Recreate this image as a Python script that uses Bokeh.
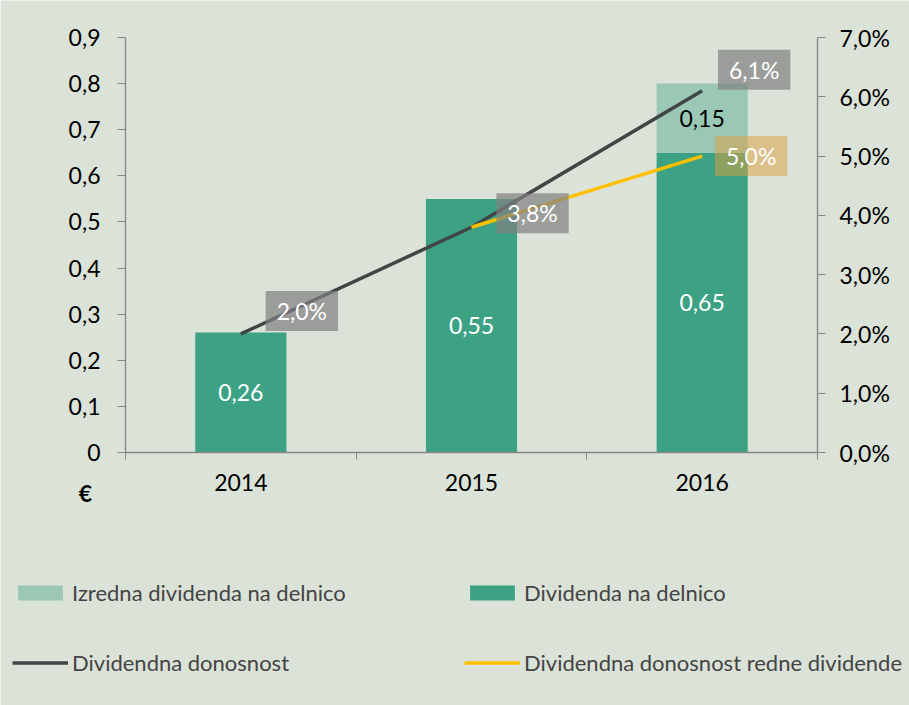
from bokeh.plotting import figure
from bokeh.models import (Range1d, LinearAxis, FixedTicker, Legend, LegendItem,
                          Label, LabelSet, ColumnDataSource)
from bokeh.embed import file_html
from bokeh.resources import INLINE
from bokeh.core.properties import value

# ---- data ----
years = ["2014", "2015", "2016"]
dividend = [0.26, 0.55, 0.65]             # Dividenda na delnico (€)
extra = [0.0, 0.0, 0.15]                  # Izredna dividenda na delnico (€)
yield_total = [2.0, 3.8, 6.1]             # Dividendna donosnost (%)
yield_regular = [float("nan"), 3.8, 5.0]  # Dividendna donosnost redne dividende (%)
left_ticks = [0, 0.1, 0.2, 0.3, 0.4, 0.5, 0.6, 0.7, 0.8, 0.9]
right_ticks = [0, 1, 2, 3, 4, 5, 6, 7]
LEFT_MAX = 0.9
RIGHT_MAX = 7

# ---- style / layout ----
FONT = "Lato"
BG = "#dbe2d8"
AXIS = "#868686"
DARK_GREEN = "#3ca283"
LIGHT_GREEN = "#9ac8b5"
GREY_LINE = "#404545"
YELLOW = "#ffc000"
FS = "23px"
LEG_FS = "22px"

W, H = 909, 705
PL, PR, PT, PB = 125, 817, 37, 452  # plot-area pixel box inside the figure
ncat = len(years)
x0 = -PL / (PR - PL) * ncat
x1 = (W - PL) / (PR - PL) * ncat
y1 = LEFT_MAX + PT / (PB - PT) * LEFT_MAX
y0 = -(H - PB) / (PB - PT) * LEFT_MAX
k = RIGHT_MAX / LEFT_MAX

xc = [i + 0.5 for i in range(ncat)]
bounds = [float(i) for i in range(ncat + 1)]

p = figure(width=W, height=H, output_backend="svg", toolbar_location=None,
           x_range=Range1d(x0, x1), y_range=Range1d(y0, y1),
           x_axis_location=None, y_axis_location=None, min_border=0,
           background_fill_color=BG, border_fill_color=BG, outline_line_color=None)
p.grid.visible = False
p.extra_y_ranges = {"pct": Range1d(y0 * k, y1 * k)}


def style_axis(ax, standoff):
    ax.major_tick_in = 0
    ax.major_tick_line_color = AXIS
    ax.axis_line_color = AXIS
    ax.axis_line_width = 1.3
    ax.major_label_standoff = standoff
    ax.major_label_text_font = FONT
    ax.major_label_text_font_size = FS
    ax.major_label_text_color = "#000000"


# x axis (at y = 0)
xa = LinearAxis(fixed_location=0, bounds=(0, ncat),
                ticker=FixedTicker(ticks=xc, minor_ticks=bounds))
style_axis(xa, 14)
xa.major_label_overrides = {c: y for c, y in zip(xc, years)}
xa.major_tick_out = 0
xa.minor_tick_out = 7
xa.minor_tick_in = 0
xa.minor_tick_line_color = AXIS
p.add_layout(xa, "below")

# left axis
ya = LinearAxis(fixed_location=0, bounds=(0, LEFT_MAX),
                ticker=FixedTicker(ticks=left_ticks, minor_ticks=[]))
style_axis(ya, 17)
ya.major_label_overrides = {t: ("0" if t == 0 else f"{t:.1f}".replace(".", ",")) for t in left_ticks}
ya.major_tick_out = 8
p.add_layout(ya, "left")

# right axis
ra = LinearAxis(y_range_name="pct", fixed_location=ncat, bounds=(0, RIGHT_MAX),
                ticker=FixedTicker(ticks=right_ticks, minor_ticks=[]))
style_axis(ra, 14)
ra.major_label_overrides = {t: f"{t:.1f}%".replace(".", ",") for t in right_ticks}
ra.major_tick_out = 8
p.add_layout(ra, "right")

# bars
BW = 0.395
tops = [d + e for d, e in zip(dividend, extra)]
r_div = p.vbar(x=xc, bottom=0, top=dividend, width=BW, fill_color=DARK_GREEN, line_color=None)
r_ext = p.vbar(x=xc, bottom=dividend, top=tops, width=BW, fill_color=LIGHT_GREEN, line_color=None)

# lines
r_tot = p.line(xc, yield_total, y_range_name="pct", line_color=GREY_LINE, line_width=3.5)
r_reg = p.line(xc, yield_regular, y_range_name="pct", line_color=YELLOW, line_width=3.5)

# bar labels
src_div = ColumnDataSource(dict(x=xc, y=[d / 2 for d in dividend],
                                t=[f"{d:.2f}".replace(".", ",") for d in dividend]))
p.add_layout(LabelSet(x="x", y="y", text="t", source=src_div, text_align="center",
                      text_baseline="middle", text_color="white",
                      text_font=value(FONT), text_font_size=FS))
ex_x = [x for x, e in zip(xc, extra) if e > 0]
ex_y = [d + e / 2 for d, e in zip(dividend, extra) if e > 0]
ex_t = [f"{e:.2f}".replace(".", ",") for e in extra if e > 0]
src_ext = ColumnDataSource(dict(x=ex_x, y=ex_y, t=ex_t))
p.add_layout(LabelSet(x="x", y="y", text="t", source=src_ext, text_align="center",
                      text_baseline="middle", text_color="black",
                      text_font=value(FONT), text_font_size=FS))


# percentage labels with boxes
def pct_label(xv, yv, dx, dy, fill, alpha):
    p.add_layout(Label(x=xv, y=yv, y_range_name="pct", x_offset=dx, y_offset=dy,
                       text=f"{yv:.1f}%".replace(".", ","), text_align="center",
                       text_baseline="middle", text_color="white", text_font=FONT,
                       text_font_size=FS, background_fill_color=fill,
                       background_fill_alpha=alpha, padding=(11, 6)))


tot_off = [(61, 23), (61, 14), (52, 21)]
for xv, yv, (dx, dy) in zip(xc, yield_total, tot_off):
    pct_label(xv, yv, dx, dy, "#808080", 0.7)
pct_label(xc[-1], yield_regular[-1], 49, 0, "#dd9e3c", 0.5)

# euro sign
p.add_layout(Label(x=0, y=0, x_offset=-40, y_offset=-40, text="€", text_align="center",
                   text_baseline="middle", text_font=FONT, text_font_style="bold",
                   text_font_size=FS, text_color="black"))


# legends
def make_legend(items, loc):
    lg = Legend(items=items, location=loc, orientation="vertical",
                glyph_width=56, glyph_height=19, label_standoff=4, spacing=42,
                padding=0, margin=0, background_fill_alpha=0, border_line_alpha=0,
                label_text_font=FONT, label_text_font_size=LEG_FS, label_height=28)
    p.add_layout(lg, "center")


make_legend([LegendItem(label="Izredna dividenda na delnico", renderers=[r_ext]),
             LegendItem(label="Dividendna donosnost", renderers=[r_tot])], (12, 29))
make_legend([LegendItem(label="Dividenda na delnico", renderers=[r_div]),
             LegendItem(label="Dividendna donosnost redne dividende", renderers=[r_reg])], (464, 29))

open("out.html", "w").write(file_html(p, INLINE))
